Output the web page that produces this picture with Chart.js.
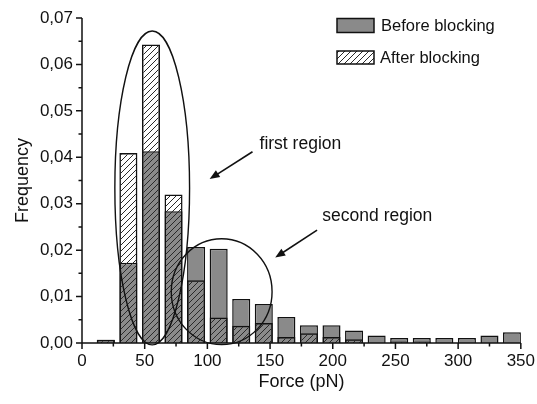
<!DOCTYPE html>
<html>
<head>
<meta charset="utf-8">
<script src="https://cdn.jsdelivr.net/npm/chart.js@4/dist/chart.umd.min.js"></script>
<style>
  html, body { margin: 0; padding: 0; background: #fff; }
  #wrap { width: 537px; height: 404px; }
</style>
</head>
<body>
<div id="wrap"><canvas id="c" width="537" height="404"></canvas></div>
<script>
// Histogram bin centres (pN), bin width 18 pN
const forceBins = [19, 37, 55, 73, 91, 109, 127, 145, 163, 181, 199, 217, 235, 253, 271, 289, 307, 325, 343];
// Relative frequency per bin
const beforeBlocking = [0.0007, 0.0173, 0.0413, 0.0284, 0.0207, 0.0203, 0.0095, 0.0084, 0.0056, 0.0038,
                        0.0038, 0.0027, 0.0016, 0.0011, 0.0011, 0.0011, 0.0011, 0.0016, 0.0023];
const afterBlocking  = [0.0007, 0.0409, 0.0643, 0.0320, 0.0135, 0.0055, 0.0037, 0.0043, 0.0013, 0.0021,
                        0.0013, 0.0008, null, 0.0003, 0.0003, null, null, null, null];
const seriesNames = ['Before blocking', 'After blocking'];
const xTitle = 'Force (pN)';
const yTitle = 'Frequency';
const regionLabels = ['first region', 'second region'];

const FONT = '"Liberation Sans", Arial, Helvetica, sans-serif';
const INK = '#111';
const GREY = '#8a8a8a';

// Diagonal "/" hatch used for the after-blocking bars
function makeHatch(ctx) {
  const s = 6;
  const c = document.createElement('canvas');
  c.width = s; c.height = s;
  const g = c.getContext('2d');
  g.strokeStyle = '#2a2a2a';
  g.lineWidth = 1;
  g.beginPath();
  g.moveTo(0, s); g.lineTo(s, 0);
  g.moveTo(-s / 2, s / 2); g.lineTo(s / 2, -s / 2);
  g.moveTo(s / 2, s * 1.5); g.lineTo(s * 1.5, s / 2);
  g.stroke();
  return ctx.createPattern(c, 'repeat');
}

const canvas = document.getElementById('c');
const hatch = makeHatch(canvas.getContext('2d'));

// Axis spines with major/minor tick marks
const axisPlugin = {
  id: 'axisLines',
  afterDatasetsDraw(chart) {
    const { ctx, scales: { x, y } } = chart;
    const x0 = x.getPixelForValue(0), x1 = x.getPixelForValue(350);
    const y0 = y.getPixelForValue(0), y1 = y.getPixelForValue(0.07);
    ctx.save();
    ctx.strokeStyle = INK;
    ctx.lineWidth = 1.5;
    ctx.beginPath();
    ctx.moveTo(x0, y1); ctx.lineTo(x0, y0); ctx.lineTo(x1, y0);
    for (let v = 0; v <= 350; v += 25) {
      const px = x.getPixelForValue(v);
      ctx.moveTo(px, y0); ctx.lineTo(px, y0 + (v % 50 === 0 ? 6 : 3.5));
    }
    for (let i = 0; i <= 14; i++) {
      const py = y.getPixelForValue(i * 0.005);
      ctx.moveTo(x0, py); ctx.lineTo(x0 - (i % 2 === 0 ? 6 : 3.5), py);
    }
    ctx.stroke();
    ctx.restore();
  }
};

// Legend box in the upper right of the plot
const legendPlugin = {
  id: 'boxLegend',
  afterDraw(chart) {
    const ctx = chart.ctx;
    ctx.save();
    ctx.lineWidth = 1.5;
    ctx.strokeStyle = INK;
    ctx.fillStyle = GREY;
    ctx.fillRect(337, 18.5, 37, 14);
    ctx.strokeRect(337, 18.5, 37, 14);
    ctx.fillStyle = '#fff';
    ctx.fillRect(337, 51, 37, 13);
    ctx.fillStyle = hatch;
    ctx.fillRect(337, 51, 37, 13);
    ctx.strokeRect(337, 51, 37, 13);
    ctx.fillStyle = INK;
    ctx.font = '16.5px ' + FONT;
    ctx.textBaseline = 'alphabetic';
    ctx.fillText(seriesNames[0], 381, 30.5);
    ctx.fillText(seriesNames[1], 380, 62.5);
    ctx.restore();
  }
};

// Outlines marking the two force regions, with labelled arrows
const regionPlugin = {
  id: 'regions',
  afterDraw(chart) {
    const { ctx, scales: { x, y } } = chart;
    const px = v => x.getPixelForValue(v);
    const py = v => y.getPixelForValue(v);
    function ellipse(cx, cy, rx, ry) {
      ctx.beginPath();
      ctx.ellipse(px(cx), py(cy), Math.abs(px(cx + rx) - px(cx)), Math.abs(py(cy + ry) - py(cy)), 0, 0, Math.PI * 2);
      ctx.stroke();
    }
    function arrow(xa, ya, xb, yb) {
      const ax = px(xa), ay = py(ya), bx = px(xb), by = py(yb);
      const ang = Math.atan2(by - ay, bx - ax);
      const L = 10, W = 4;
      ctx.beginPath();
      ctx.moveTo(ax, ay);
      ctx.lineTo(bx - Math.cos(ang) * L * 0.6, by - Math.sin(ang) * L * 0.6);
      ctx.stroke();
      ctx.beginPath();
      ctx.moveTo(bx, by);
      ctx.lineTo(bx - Math.cos(ang) * L + Math.sin(ang) * W, by - Math.sin(ang) * L - Math.cos(ang) * W);
      ctx.lineTo(bx - Math.cos(ang) * L - Math.sin(ang) * W, by - Math.sin(ang) * L + Math.cos(ang) * W);
      ctx.closePath();
      ctx.fill();
    }
    ctx.save();
    ctx.strokeStyle = INK;
    ctx.fillStyle = INK;
    ctx.lineWidth = 1.4;
    ellipse(56, 0.0334, 29.8, 0.0338);
    ellipse(111.4, 0.01105, 40.2, 0.0114);
    ctx.lineWidth = 1.6;
    arrow(136, 0.0412, 101.8, 0.0353);
    arrow(187.5, 0.0243, 154.1, 0.0184);
    ctx.font = '17.5px ' + FONT;
    ctx.textBaseline = 'alphabetic';
    ctx.fillText(regionLabels[0], px(141.6), py(0.0418));
    ctx.fillText(regionLabels[1], px(191.7), py(0.0263));
    ctx.restore();
  }
};

new Chart(canvas, {
  type: 'bar',
  data: {
    datasets: [
      {
        label: seriesNames[0],
        data: forceBins.map((f, i) => ({ x: f, y: beforeBlocking[i] })),
        backgroundColor: GREY,
        borderColor: INK,
        borderWidth: 1.5,
        grouped: false,
        order: 2
      },
      {
        label: seriesNames[1],
        data: forceBins.map((f, i) => ({ x: f, y: afterBlocking[i] })),
        backgroundColor: hatch,
        borderColor: INK,
        borderWidth: 1.5,
        grouped: false,
        order: 1
      }
    ]
  },
  options: {
    responsive: false,
    animation: false,
    devicePixelRatio: 1,
    barPercentage: 0.8,
    categoryPercentage: 1,
    layout: { padding: { top: 18, right: 15, bottom: 0, left: 0 } },
    plugins: { legend: { display: false }, tooltip: { enabled: false } },
    scales: {
      x: {
        type: 'linear',
        min: 0, max: 350,
        offset: false,
        grid: { display: false, drawTicks: true, tickLength: 6 },
        border: { display: false },
        ticks: { stepSize: 50, color: INK, font: { family: FONT, size: 17 }, padding: 2, maxRotation: 0 },
        title: { display: true, text: xTitle, color: INK, font: { family: FONT, size: 18 }, padding: { top: 0, bottom: 11 } },
        afterFit(s) { s.height = 61; }
      },
      y: {
        min: 0, max: 0.07,
        grid: { display: false, drawTicks: true, tickLength: 6 },
        border: { display: false },
        ticks: {
          stepSize: 0.01, color: INK, font: { family: FONT, size: 17 }, padding: 3,
          callback: v => v.toFixed(2).replace('.', ',')
        },
        title: { display: true, text: yTitle, color: INK, font: { family: FONT, size: 18 }, padding: { top: 12, bottom: 0 } },
        afterFit(s) { s.width = 82; }
      }
    }
  },
  plugins: [axisPlugin, legendPlugin, regionPlugin]
});
</script>
</body>
</html>
